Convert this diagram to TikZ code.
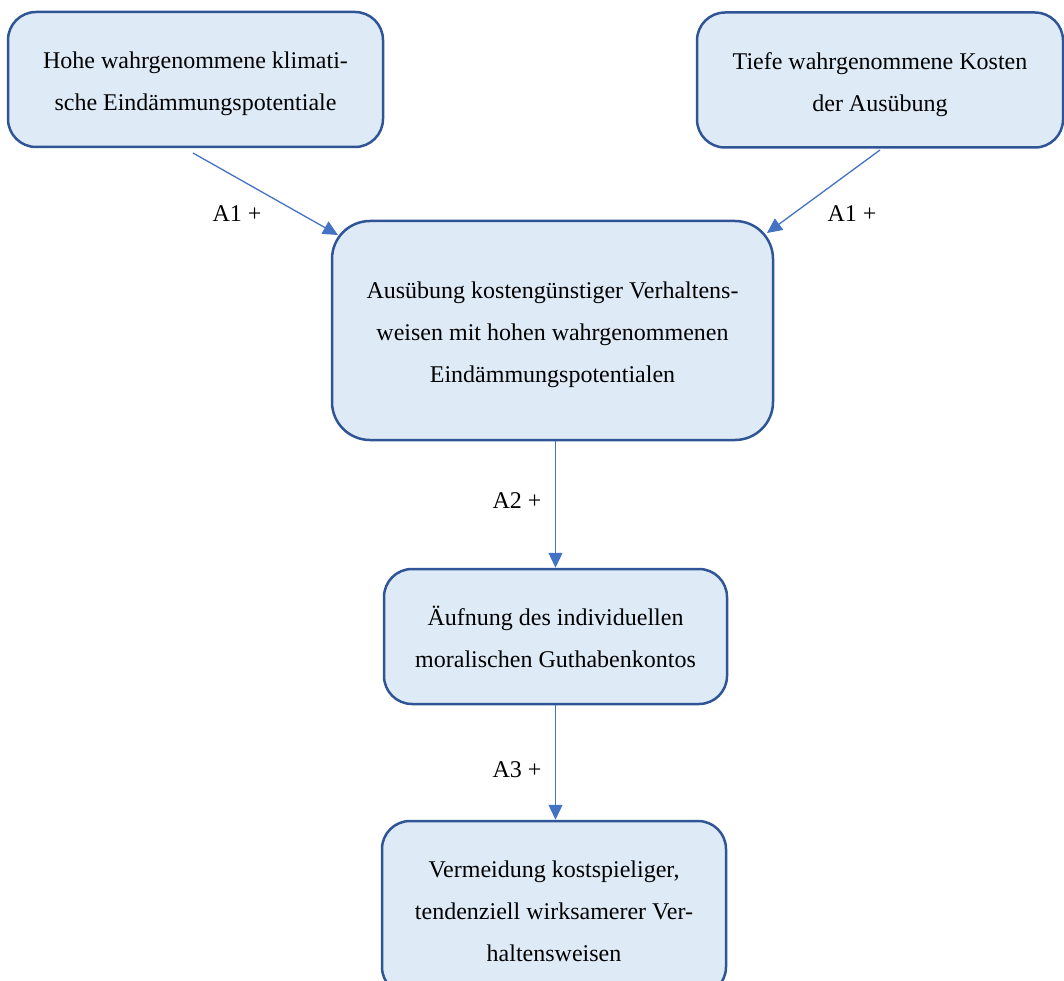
\documentclass[tikz,border=0pt]{standalone}
\usepackage{fontspec}
\setmainfont{Liberation Serif}
\usetikzlibrary{arrows.meta}
\definecolor{boxfill}{HTML}{DEEBF7}
\definecolor{boxline}{HTML}{2F5597}
\definecolor{arrowc}{HTML}{4472C4}
\newcommand{\topstrut}{\rule{0pt}{26pt}}
\begin{document}
\begin{tikzpicture}[x=1pt,y=-1pt,
  box/.style={draw=boxline, line width=2.5pt, fill=boxfill, rounded corners=28pt,
    align=center, inner sep=0pt, font=\fontsize{24pt}{42pt}\selectfont},
  conn/.style={draw=arrowc, line width=1.3pt, -{Triangle[length=15pt,width=14pt]}},
  lab/.style={font=\fontsize{24pt}{28pt}\selectfont, anchor=base, inner sep=0pt}]
\useasboundingbox (0,0) rectangle (1064,981);
\node[box, minimum width=375pt, minimum height=135pt] (b1) at (195.5,79.5)
  {\topstrut Hohe wahrgenommene klimati-\\sche Eindämmungspotentiale};
\node[box, minimum width=366pt, minimum height=135pt] (b2) at (880,80)
  {\topstrut Tiefe wahrgenommene Kosten\\der Ausübung};
\node[box, rounded corners=38pt, minimum width=441pt, minimum height=219pt] (b3) at (552.5,330.5)
  {\topstrut Ausübung kostengünstiger Verhaltens-\\weisen mit hohen wahrgenommenen\\Eindämmungspotentialen};
\node[box, minimum width=343pt, minimum height=135pt] (b4) at (555.5,636.5)
  {Äufnung des individuellen\\moralischen Guthabenkontos};
\node[box, minimum width=344pt, minimum height=174pt] (b5) at (554,908)
  {\rule{0pt}{24pt}Vermeidung kostspieliger,\\tendenziell wirksamerer Ver-\\haltensweisen};
\coordinate (s1) at (193,153);
\coordinate (t1) at (338,235);
\coordinate (s2) at (880,150);
\coordinate (t2) at (767,233);
\draw[conn] (s1) -- (t1);
\draw[conn] (s2) -- (t2);
\draw[conn] (b4.north |- b3.south) -- (b4.north);
\draw[conn] (b4.south) -- (b4.south |- b5.north);
\node[lab] (l1) at (237,222) {A1 +};
\node[lab] (l2) at (852,222) {A1 +};
\node[lab] (l3) at (517,508) {A2 +};
\node[lab] (l4) at (517,777) {A3 +};
\end{tikzpicture}
\end{document}
